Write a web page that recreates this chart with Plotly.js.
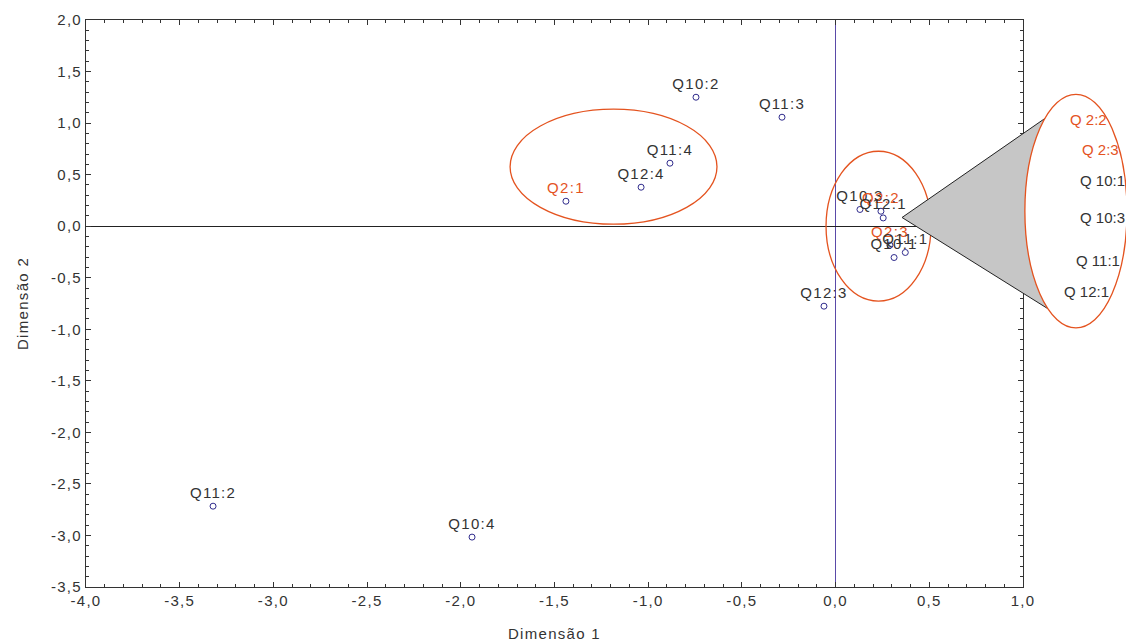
<!DOCTYPE html>
<html>
<head>
<meta charset="utf-8">
<script src="https://cdn.plot.ly/plotly-3.0.1.min.js"></script>
<style>
html,body{margin:0;padding:0;background:#fff;}
#chart{width:1126px;height:643px;}
.xtick text,.ytick text,.textpoint text,.g-xtitle text,.g-ytitle text{letter-spacing:1.3px;}
</style>
</head>
<body>
<div id="chart"></div>
<script>
// Category points (Dimensão 1, Dimensão 2)
const labels = ["Q10:2","Q11:3","Q11:4","Q12:4","Q2:1","Q12:2","Q12:3","Q11:2","Q10:4",
                "Q10:3","Q2:2","Q12:1","Q2:3","Q10:1","Q11:1"];
const dim1 = [-0.745,-0.286,-0.884,-1.038,-1.439,0.712,-0.062,-3.322,-1.940,
              0.130,0.242,0.254,0.290,0.312,0.372];
const dim2 = [1.251,1.057,0.611,0.378,0.242,0.039,-0.776,-2.716,-3.016,
              0.162,0.145,0.080,-0.184,-0.304,-0.255];
// Callout list of the clustered categories
const calloutLabels = ["Q 2:2","Q 2:3","Q 10:1","Q 10:3","Q 11:1","Q 12:1"];
// Tick values and labels
const xTickVals = [-4,-3.5,-3,-2.5,-2,-1.5,-1,-0.5,0,0.5,1];
const xTickText = ["-4,0","-3,5","-3,0","-2,5","-2,0","-1,5","-1,0","-0,5","0,0","0,5","1,0"];
const yTickVals = [-3.5,-3,-2.5,-2,-1.5,-1,-0.5,0,0.5,1,1.5,2];
const yTickText = ["-3,5","-3,0","-2,5","-2,0","-1,5","-1,0","-0,5","0,0","0,5","1,0","1,5","2,0"];

const ORANGE = "#e4531f";
const TEXT = "#333333";
const FONT = "Liberation Sans, Arial, sans-serif";
const labelColors = labels.map(l => l.startsWith("Q2:") ? ORANGE : TEXT);
const calloutColors = calloutLabels.map(l => l.startsWith("Q 2:") ? ORANGE : TEXT);

const trace = {
  x: dim1, y: dim2, text: labels,
  type: "scatter", mode: "markers+text",
  textposition: "top center",
  textfont: {family: FONT, size: 15, color: labelColors},
  marker: {symbol: "circle-open", size: 6, color: "#2f2b8c", line: {width: 1, color: "#2f2b8c"}},
  hoverinfo: "x+y+text", cliponaxis: false
};

// callout label positions (paper coords, left anchored)
const calloutX = [1.048, 1.061, 1.059, 1.059, 1.054, 1.042];
const calloutY = [0.825, 0.772, 0.717, 0.651, 0.576, 0.521];
const annotations = calloutLabels.map((t, i) => ({
  text: t, xref: "paper", yref: "paper", x: calloutX[i], y: calloutY[i],
  xanchor: "left", yanchor: "middle", showarrow: false,
  font: {family: FONT, size: 15, color: calloutColors[i]}
}));

const shapes = [
  {type: "circle", xref: "x", yref: "y", x0: -1.737, x1: -0.633, y0: 0.019, y1: 1.135,
   line: {color: ORANGE, width: 1.3}},
  {type: "circle", xref: "x", yref: "y", x0: -0.051, x1: 0.509, y0: -0.727, y1: 0.727,
   line: {color: ORANGE, width: 1.3}},
  {type: "path", xref: "paper", yref: "paper",
   path: "M 0.8709 0.6517 L 1.0256 0.8289 L 1.0288 0.4885 Z",
   fillcolor: "#c6c6c6", line: {color: "#222", width: 1}},
  {type: "circle", xref: "paper", yref: "paper", x0: 1.002, x1: 1.111, y0: 0.457, y1: 0.869,
   fillcolor: "#ffffff", line: {color: ORANGE, width: 1.3}}
];

const axisCommon = {
  showgrid: false, showline: true, linecolor: "#333", linewidth: 1, mirror: "ticks",
  ticks: "inside", ticklen: 5, tickcolor: "#333", tickwidth: 1,
  tickmode: "array",
  tickfont: {family: FONT, size: 15, color: TEXT},
  minor: {dtick: 0.1, tick0: 0, ticks: "inside", ticklen: 3, tickcolor: "#333", showgrid: false}
};

const layout = {
  width: 1126, height: 643,
  margin: {l: 86, r: 103, t: 20, b: 56},
  paper_bgcolor: "#fff", plot_bgcolor: "#fff",
  separators: ",.",
  showlegend: false,
  xaxis: Object.assign({}, axisCommon, {
    range: [-4, 1], tickvals: xTickVals, ticktext: xTickText,
    zeroline: true, zerolinecolor: "#5a4aa8", zerolinewidth: 1.3,
    title: {text: "Dimensão 1", standoff: 20, font: {family: FONT, size: 15, color: TEXT}}
  }),
  yaxis: Object.assign({}, axisCommon, {
    range: [-3.5, 2], tickvals: yTickVals, ticktext: yTickText,
    zeroline: true, zerolinecolor: "#222", zerolinewidth: 1,
    title: {text: "Dimensão 2", standoff: 18, font: {family: FONT, size: 15, color: TEXT}}
  }),
  shapes: shapes,
  annotations: annotations
};

Plotly.newPlot("chart", [trace], layout, {displayModeBar: false, staticPlot: true});
</script>
</body>
</html>
